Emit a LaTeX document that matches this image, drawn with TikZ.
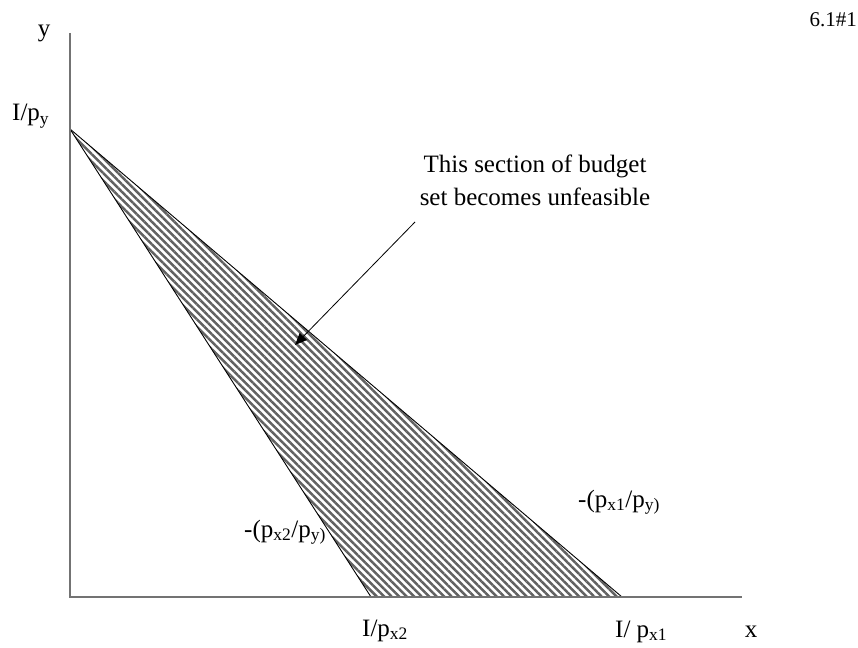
\documentclass[tikz,border=0pt]{standalone}
\usepackage{fontspec}
\setmainfont{Liberation Serif}
\usetikzlibrary{patterns.meta,arrows.meta}
\newcommand\subtx[1]{\textsubscript{#1}}
\begin{document}
\begin{tikzpicture}[x=1pt,y=-1pt,
  lbl/.style={inner sep=0pt,font=\fontsize{25}{33}\selectfont},
  axis/.style={draw=black!55,line width=1.3pt},
  edge/.style={draw=black,line width=0.9pt},
  hatch/.style={pattern={Lines[angle=-45,distance=5.3pt,line width=2.5pt]},pattern color=black!62},
  pointer/.style={draw=black,line width=0.8pt,-{Triangle[length=12pt,width=10pt]}}]
\useasboundingbox (0,0) rectangle (858,647);
% axes
\coordinate (ytop) at (70,33);
\coordinate (O) at (70,597);
\coordinate (xend) at (742,597);
\coordinate (A) at (70,129);
\coordinate (B) at (371,597);
\coordinate (C) at (622,597);
\fill[hatch] (A) -- (B) -- (C) -- cycle;
\draw[edge] (A) -- (B);
\draw[edge] (A) -- (C);
\draw[axis] (ytop) -- (O) -- (xend);
% labels
\node[lbl,anchor=base] (ylab) at (44,37) {y};
\node[lbl,anchor=base] (xlab) at (751,637) {x};
\node[lbl,anchor=base west] (Ipy) at (12,121) {I/p\subtx{y}};
\node[lbl,anchor=base west] (Ipx2) at (362,636) {I/p\subtx{x2}};
\node[lbl,anchor=base west] (Ipx1) at (615,637) {I/ p\subtx{x1}};
\node[lbl,anchor=base west] (s2) at (244,537) {-(p\subtx{x2}/p\subtx{y)}};
\node[lbl,anchor=base west] (s1) at (578,507) {-(p\subtx{x1}/p\subtx{y)}};
\node[lbl,align=center] (note) at (535,180) {This section of budget\\set becomes unfeasible};
\node[lbl,anchor=base east,font=\fontsize{21}{24}\selectfont] (tag) at (857,27) {6.1\#1};
\coordinate (tip) at (295,345);
\coordinate (tail) at (415,222);
\draw[pointer] (tail) -- (tip);
\end{tikzpicture}
\end{document}
